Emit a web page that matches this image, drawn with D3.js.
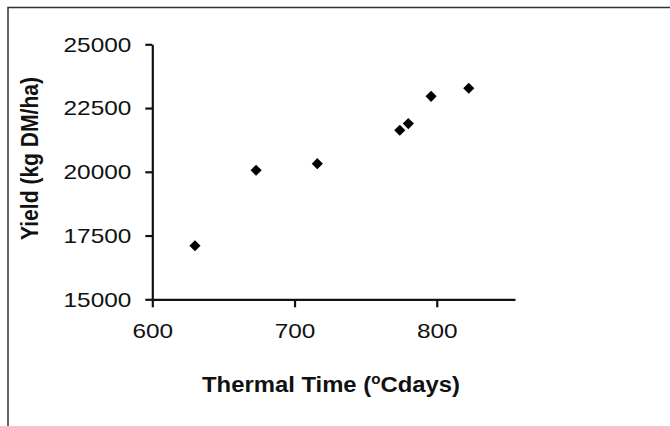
<!DOCTYPE html>
<html>
<head>
<meta charset="utf-8">
<script src="https://d3js.org/d3.v7.min.js"></script>
<style>
  body { margin: 0; background: #fff; }
  text { font-family: "Liberation Sans", Arial, sans-serif; fill: #111; }
</style>
</head>
<body>
<svg id="chart" width="670" height="426"></svg>
<script>
// data
var thermal_time = [630, 673, 716, 774, 780, 796, 822.5]
var yield_kg = [17100, 20060, 20320, 21630, 21890, 22960, 23275]
var x_ticks = [600, 700, 800]
var y_ticks = [15000, 17500, 20000, 22500, 25000]

var svg = d3.select("#chart")

// frame (top and left edges only show in the scan)
svg.append("path")
    .attr("d", "M 8 426 L 8 7.5 L 670 7.5")
    .attr("fill", "none")
    .attr("stroke", "#333")
    .attr("stroke-width", 1.5)

var xScale = d3.scaleLinear().domain([600, 855]).range([152.3, 515])
var yScale = d3.scaleLinear().domain([15000, 25000]).range([299.3, 44.3])

// stretch text horizontally like the scan
function widen(sel, k) {
    sel.each(function() {
        var len = this.getComputedTextLength()
        d3.select(this).attr("textLength", len * k).attr("lengthAdjust", "spacingAndGlyphs")
    })
}

var xAxis = svg.append("g")
    .attr("transform", "translate(0," + yScale(15000) + ")")
    .call(d3.axisBottom(xScale).tickValues(x_ticks).tickFormat(d3.format("d"))
        .tickSize(8).tickSizeOuter(0).tickPadding(16))

var yAxis = svg.append("g")
    .attr("transform", "translate(" + xScale(600) + ",0)")
    .call(d3.axisLeft(yScale).tickValues(y_ticks).tickFormat(d3.format("d"))
        .tickSize(7).tickSizeOuter(0).tickPadding(14))

svg.selectAll(".domain, .tick line")
    .attr("stroke", "#111")
    .attr("stroke-width", 2.2)

svg.selectAll(".tick text")
    .attr("fill", "#111")
    .style("font-family", "'Liberation Sans', Arial, sans-serif")
    .style("font-size", "21px")
xAxis.selectAll(".tick text").attr("dy", "0.71em")
widen(svg.selectAll(".tick text"), 1.16)

// axis titles
var xTitle = svg.append("text")
    .attr("x", 331)
    .attr("y", 391.5)
    .attr("text-anchor", "middle")
    .style("font-size", "22px")
    .style("font-weight", "bold")
xTitle.append("tspan").text("Thermal Time (")
xTitle.append("tspan").attr("dy", -8).style("font-size", "14px").text("o")
xTitle.append("tspan").attr("dy", 8).text("Cdays)")
xTitle.attr("textLength", 258).attr("lengthAdjust", "spacingAndGlyphs")

var yTitle = svg.append("text")
    .attr("transform", "translate(38,158.5) rotate(-90)")
    .attr("text-anchor", "middle")
    .style("font-size", "24px")
    .style("font-weight", "bold")
    .text("Yield (kg DM/ha)")
yTitle.attr("textLength", 163).attr("lengthAdjust", "spacingAndGlyphs")

// points
var diamond = d3.symbol().type(d3.symbolSquare).size(62)

svg.append("g").attr("class", "points")
    .selectAll("path")
    .data(thermal_time)
    .enter()
    .append("path")
    .attr("d", diamond)
    .attr("transform", function(d, i) {
        return "translate(" + xScale(d) + "," + yScale(yield_kg[i]) + ") rotate(45)"
    })
    .attr("fill", "#000")
</script>
</body>
</html>
